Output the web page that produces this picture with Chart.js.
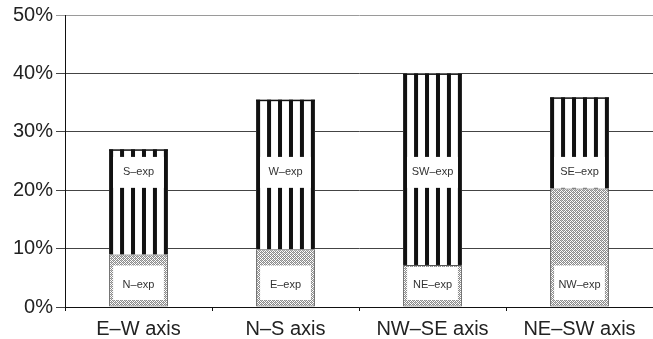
<!DOCTYPE html>
<html>
<head>
<meta charset="utf-8">
<script src="https://cdn.jsdelivr.net/npm/chart.js@4"></script>
<style>
html,body{margin:0;padding:0;background:#fff;}
#wrap{width:653px;height:339px;position:relative;}
</style>
</head>
<body>
<div id="wrap"><canvas id="c" width="653" height="339"></canvas></div>
<script>
// ---- data ----
const categories = ['E\u2013W axis', 'N\u2013S axis', 'NW\u2013SE axis', 'NE\u2013SW axis'];
const lowerValues = [9.0, 9.9, 7.2, 20.3];      // dotted segment (%)
const upperValues = [18.0, 25.6, 32.8, 15.6];   // striped segment (%)
const lowerLabels = ['N\u2013exp', 'E\u2013exp', 'NE\u2013exp', 'NW\u2013exp'];
const upperLabels = ['S\u2013exp', 'W\u2013exp', 'SW\u2013exp', 'SE\u2013exp'];
const yTicks = [0, 10, 20, 30, 40, 50];

const FONT = '"Liberation Sans", Arial, Helvetica, sans-serif';

// stipple pattern for lower segments
function makeStipple() {
  const pc = document.createElement('canvas');
  pc.width = 4; pc.height = 4;
  const g = pc.getContext('2d');
  g.fillStyle = '#ffffff'; g.fillRect(0, 0, 4, 4);
  g.fillStyle = '#8a8a8a';
  for (let y = 0; y < 4; y++) for (let x = 0; x < 4; x++) {
    if ((x + y) % 2 === 0) g.fillRect(x, y, 1, 1);
  }
  g.fillStyle = '#bdbdbd';
  g.fillRect(1, 0, 1, 1); g.fillRect(3, 2, 1, 1);
  return g.createPattern(pc, 'repeat');
}

const labelPlugin = {
  id: 'segLabels',
  afterDatasetDraw(chart, args, opts) {
    const ctx = chart.ctx;
    const ys = chart.scales.y;
    const meta = args.meta;
    ctx.save();
    meta.data.forEach((el, i) => {
      const p = el.getProps(['x', 'y', 'base', 'width'], true);
      const left = p.x - p.width / 2, right = p.x + p.width / 2;
      const top = Math.min(p.y, p.base), bottom = Math.max(p.y, p.base);
      if (args.index === 1) {
        // vertical stripes
        ctx.fillStyle = '#ffffff';
        ctx.fillRect(left, top, p.width, bottom - top);
        const sw = 4, n = 5;
        const step = (p.width - sw) / n;
        ctx.fillStyle = '#111111';
        for (let k = 0; k <= n; k++) {
          ctx.fillRect(left + k * step, top, sw, bottom - top);
        }
        // top border
        ctx.fillRect(left, top, p.width, 1.5);
        // white band with label
        let bTop = ys.getPixelForValue(opts.upperBand[1]);
        let bBot = ys.getPixelForValue(opts.upperBand[0]);
        bTop = Math.max(bTop, top + 1.5);
        bBot = Math.min(bBot, bottom);
        ctx.fillStyle = '#ffffff';
        ctx.fillRect(left + sw, bTop, p.width - 2 * sw, bBot - bTop);
        ctx.fillStyle = '#333333';
        ctx.font = '11px ' + FONT;
        ctx.textAlign = 'center';
        ctx.textBaseline = 'middle';
        ctx.fillText(upperLabels[i], p.x, ys.getPixelForValue(opts.upperText));
      } else {
        let bTop = ys.getPixelForValue(opts.lowerBox[1]);
        let bBot = ys.getPixelForValue(opts.lowerBox[0]);
        bTop = Math.max(bTop, top + 2);
        bBot = Math.min(bBot, bottom - 3);
        ctx.fillStyle = '#ffffff';
        ctx.fillRect(left + 4, bTop, p.width - 8, bBot - bTop);
        ctx.fillStyle = '#333333';
        ctx.font = '11px ' + FONT;
        ctx.textAlign = 'center';
        ctx.textBaseline = 'middle';
        ctx.fillText(lowerLabels[i], p.x, ys.getPixelForValue(opts.lowerText));
      }
    });
    ctx.restore();
  }
};

const stipple = makeStipple();

new Chart(document.getElementById('c'), {
  type: 'bar',
  data: {
    labels: categories,
    datasets: [
      { label: 'lower', data: lowerValues, backgroundColor: stipple, borderColor: '#555', borderWidth: 1, borderSkipped: false },
      { label: 'upper', data: upperValues, backgroundColor: '#ffffff', borderColor: '#111', borderWidth: 0 }
    ]
  },
  options: {
    responsive: false,
    animation: false,
    devicePixelRatio: 1,
    layout: { padding: { top: 15, right: -4, bottom: 0, left: 0 } },
    datasets: { bar: { barPercentage: 0.4, categoryPercentage: 1.0 } },
    plugins: {
      legend: { display: false },
      tooltip: { enabled: false },
      segLabels: { upperBand: [20.4, 25.7], upperText: 23.1, lowerBox: [1.2, 7.1], lowerText: 3.8 }
    },
    scales: {
      x: {
        stacked: true,
        offset: true,
        grid: { display: true, drawOnChartArea: false, drawTicks: true, tickLength: 4, color: '#111', offset: true },
        border: { display: true, color: '#111', width: 1 },
        ticks: { color: '#222', font: { family: FONT, size: 20 }, padding: 6, maxRotation: 0, autoSkip: false },
        afterFit(s) { s.height = 32; }
      },
      y: {
        stacked: true,
        min: 0, max: 50,
        afterBuildTicks(s) { s.ticks = yTicks.map(v => ({ value: v })); },
        grid: {
          color: (c) => (c.tick && c.tick.value === 50) ? '#9a9a9a' : '#444',
          lineWidth: 1, tickLength: 9, drawTicks: true
        },
        border: { display: true, color: '#111', width: 1 },
        ticks: { color: '#222', font: { family: FONT, size: 20 }, padding: 3, callback: (v) => v + '%' },
        afterFit(s) { s.width = 65; }
      }
    }
  },
  plugins: [labelPlugin]
});
</script>
</body>
</html>
